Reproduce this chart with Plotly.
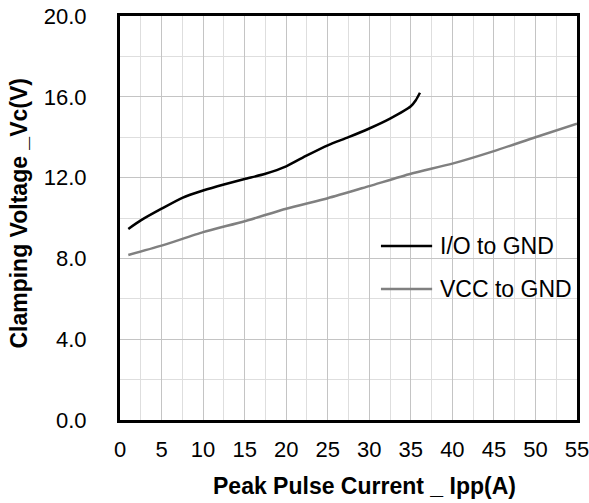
import plotly.graph_objects as go

# ---- data ----
io_x = [1.0, 2.5, 5.0, 7.5, 10.0, 12.5, 15.0, 17.5, 20.0, 22.5, 25.0, 27.5, 30.0, 32.5, 35.0, 35.6, 36.1]
io_y = [9.46, 9.88, 10.46, 11.0, 11.36, 11.66, 11.93, 12.19, 12.56, 13.1, 13.6, 14.0, 14.43, 14.92, 15.53, 15.83, 16.2]

vcc_x = [1.0, 5.0, 10.0, 15.0, 20.0, 25.0, 30.0, 35.0, 40.0, 45.0, 50.0, 55.0]
vcc_y = [8.17, 8.63, 9.30, 9.84, 10.46, 10.98, 11.58, 12.19, 12.69, 13.31, 14.0, 14.67]

series_names = ["I/O to GND", "VCC to GND"]
series_colors = ["#000000", "#808080"]

x_tick_vals = [0, 5, 10, 15, 20, 25, 30, 35, 40, 45, 50, 55]
x_tick_text = ["0", "5", "10", "15", "20", "25", "30", "35", "40", "45", "50", "55"]
y_tick_vals = [0, 4, 8, 12, 16, 20]
y_tick_text = ["0.0", "4.0", "8.0", "12.0", "16.0", "20.0"]

x_title = "Peak Pulse Current _ Ipp(A)"
y_title = "Clamping Voltage _Vc(V)"

FONT = "Liberation Sans, Arial, sans-serif"

fig = go.Figure()
for xs, ys, name, col in [(io_x, io_y, series_names[0], series_colors[0]),
                          (vcc_x, vcc_y, series_names[1], series_colors[1])]:
    fig.add_trace(go.Scatter(x=xs, y=ys, mode="lines", name=name,
                             line=dict(color=col, width=2.5, shape="spline", smoothing=0.6),
                             showlegend=False))

fig.update_layout(
    width=589, height=503,
    margin=dict(l=120, r=12, t=16, b=83, autoexpand=False),
    paper_bgcolor="white", plot_bgcolor="white",
    font=dict(family=FONT, color="black", size=22),
)

fig.update_xaxes(
    range=[0, 55], tickvals=x_tick_vals, ticktext=x_tick_text,
    showgrid=True, gridcolor="#c4c4c4", gridwidth=1,
    minor=dict(dtick=2.5, showgrid=True, gridcolor="#dedede", gridwidth=1),
    showline=True, linecolor="black", linewidth=3, mirror=True,
    ticks="", zeroline=False, ticklabelstandoff=8, automargin=False,
    ticklabeloverflow="allow",
    tickfont=dict(size=22, family=FONT),
)
fig.update_yaxes(
    range=[0, 20], tickvals=y_tick_vals, ticktext=y_tick_text,
    showgrid=True, gridcolor="#c4c4c4", gridwidth=1,
    minor=dict(dtick=2, showgrid=True, gridcolor="#dedede", gridwidth=1),
    showline=True, linecolor="black", linewidth=3, mirror=True,
    ticks="", zeroline=False, ticklabelstandoff=26, automargin=False,
    ticklabeloverflow="allow",
    tickfont=dict(size=22, family=FONT),
)

# axis titles
fig.add_annotation(text=f"<b>{x_title}</b>", xref="paper", yref="paper",
                   x=0.534, y=-0.163, xanchor="center", yanchor="middle",
                   showarrow=False, font=dict(size=23, family=FONT, color="black"))
fig.add_annotation(text=f"<b>{y_title}</b>", xref="paper", yref="paper",
                   x=-0.221, y=0.511, xanchor="center", yanchor="middle", textangle=-90,
                   showarrow=False, font=dict(size=23, family=FONT, color="black"))

# legend (drawn inside the plot)
legend_y = [0.4307, 0.324]
for name, col, ly in zip(series_names, series_colors, legend_y):
    fig.add_shape(type="line", xref="paper", yref="paper",
                  x0=0.571, x1=0.683, y0=ly, y1=ly,
                  line=dict(color=col, width=2.5))
    fig.add_annotation(text=name, xref="paper", yref="paper",
                       x=0.695, y=ly, xanchor="left", yanchor="middle",
                       showarrow=False, font=dict(size=23, family=FONT, color="black"))

fig.write_html("out.html", config={"displayModeBar": False},
               post_script="document.body.style.margin='0';document.body.style.overflow='hidden';")
